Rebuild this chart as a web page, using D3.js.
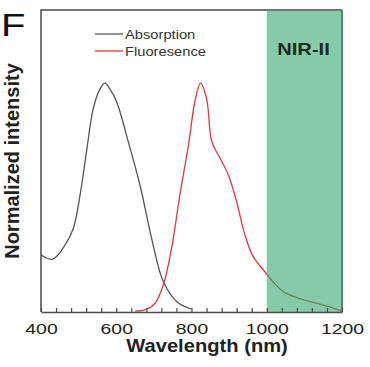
<!DOCTYPE html>
<html>
<head>
<meta charset="utf-8">
<script src="https://cdn.jsdelivr.net/npm/d3@7"></script>
<style>
  body { margin: 0; background: white; }
  svg { display: block; font-family: "Liberation Sans", Arial, sans-serif; }
</style>
</head>
<body>
<script>
// values (wavelength in nm, normalized intensity)
const absWl  = [400, 431, 464, 486, 504, 521, 539, 557, 570, 583, 601, 632, 663, 694, 725, 761, 800]
const absVal = [0.249, 0.231, 0.293, 0.366, 0.513, 0.701, 0.890, 0.975, 1.0, 0.975, 0.919, 0.744, 0.555, 0.322, 0.133, 0.045, 0.012]

const flWl  = [650, 676, 703, 725, 747, 769, 792, 809, 824, 840, 854, 876, 898, 920, 942, 964, 995, 1017, 1044, 1080, 1124, 1168, 1200]
const flVal = [0.004, 0.009, 0.038, 0.118, 0.278, 0.511, 0.73, 0.919, 1.0, 0.934, 0.744, 0.672, 0.599, 0.482, 0.337, 0.242, 0.176, 0.132, 0.089, 0.063, 0.042, 0.021, 0.004]

const nirBand = [1000, 1200]
const xTicks = d3.range(400, 1201, 40)
const xLabels = [400, 600, 800, 1000, 1200]
const seriesNames = ["Absorption", "Fluoresence"]

const [width, height] = [370, 367]
const colors = {
    abs: "#555555",
    fl: "#dd3b3b",
    axis: "#4a4a4a",
    text: "#222222",
    green: "#35a870"
}

const x = d3.scaleLinear().domain([400, 1200]).range([41, 342])
const y = d3.scaleLinear().domain([0, 1.32]).range([312, 10])

const svg = d3.select("body").append("svg")
    .attr("width", width)
    .attr("height", height)

const line = d3.line()
    .x(d => x(d[0]))
    .y(d => y(d[1]))
    .curve(d3.curveCatmullRom.alpha(0.5))

// right frame line (sits under the green band, so it comes out dark green)
svg.append("line")
    .attr("x1", x(1200)).attr("x2", x(1200))
    .attr("y1", y.range()[1]).attr("y2", y.range()[0])
    .attr("stroke", "#333").attr("stroke-width", 1.5)

svg.append("path")
    .datum(d3.zip(absWl, absVal))
    .attr("d", line)
    .attr("fill", "none")
    .attr("stroke", colors.abs)
    .attr("stroke-width", 1.3)

svg.append("path")
    .datum(d3.zip(flWl, flVal))
    .attr("d", line)
    .attr("fill", "none")
    .attr("stroke", colors.fl)
    .attr("stroke-width", 1.3)

// NIR-II band, drawn semi transparent over the curves
svg.append("rect")
    .attr("x", x(nirBand[0]))
    .attr("width", x(nirBand[1]) - x(nirBand[0]) + 1)
    .attr("y", y.range()[1] + 1)
    .attr("height", y.range()[0] - y.range()[1] - 1)
    .attr("fill", colors.green)
    .attr("fill-opacity", 0.6)

// frame: left + top
svg.append("path")
    .attr("d", `M${x(1200)},${y.range()[1]} H${x(400)} V${y.range()[0]}`)
    .attr("fill", "none")
    .attr("stroke", colors.axis)
    .attr("stroke-width", 1.5)

// bottom axis, ticks pointing inward
const xAxis = svg.append("g")
    .attr("transform", `translate(0,${y.range()[0]})`)
    .call(d3.axisBottom(x)
        .tickValues(xTicks)
        .tickSize(-4)
        .tickSizeOuter(0)
        .tickPadding(11)
        .tickFormat(d => xLabels.includes(d) ? d : ""))

xAxis.select(".domain").attr("stroke", colors.axis).attr("stroke-width", 1.5)
xAxis.selectAll(".tick line").attr("stroke", colors.axis).attr("stroke-width", 1.2)
xAxis.selectAll(".tick text")
    .attr("fill", colors.text)
    .attr("font-size", 15.5)
    .attr("font-family", "Liberation Sans, Arial, sans-serif")
    .attr("transform", "scale(1.25,1)")

// texts, the picture is a bit stretched sideways
const addText = (txt, tx, ty, size, sx, opts = {}) => svg.append("text")
    .attr("transform", `translate(${tx},${ty}) scale(${sx},1)`)
    .attr("font-size", size)
    .attr("font-weight", opts.bold ? "bold" : "normal")
    .attr("text-anchor", opts.anchor || "start")
    .attr("fill", opts.fill || colors.text)
    .text(txt)

addText("F", 1, 36, 32, 1.25, { fill: "#111" })
addText("NIR-II", 303.5, 55, 16.5, 1.22, { bold: true, anchor: "middle", fill: "#1e2a24" })
addText("Wavelength (nm)", 207, 352, 18, 1.12, { bold: true, anchor: "middle" })

svg.append("text")
    .attr("transform", `translate(18.5,161) rotate(-90)`)
    .attr("font-size", 20)
    .attr("font-weight", "bold")
    .attr("text-anchor", "middle")
    .attr("fill", colors.text)
    .text("Normalized intensity")

// legend
const legend = svg.append("g")
legend.selectAll("line")
    .data(seriesNames)
    .enter()
    .append("line")
        .attr("x1", 95).attr("x2", 123)
        .attr("y1", (d, i) => 34 + i * 17)
        .attr("y2", (d, i) => 34 + i * 17)
        .attr("stroke", (d, i) => i === 0 ? colors.abs : colors.fl)
        .attr("stroke-width", 1.3)
seriesNames.forEach((name, i) => addText(name, 125, 39 + i * 17, 13.5, 1.09, { fill: "#333" }))
</script>
</body>
</html>
